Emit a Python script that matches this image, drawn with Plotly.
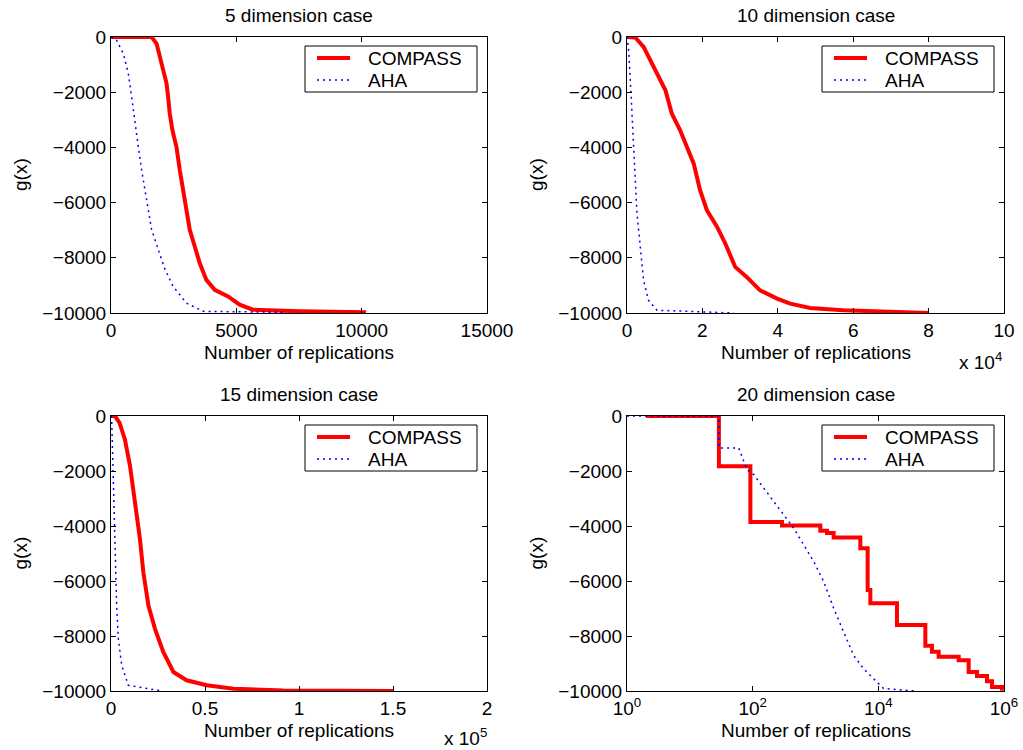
import plotly.graph_objects as go

# ---- 5 dimension case ----
compass5_x = [0, 1618, 1817, 2016, 2215, 2281, 2347, 2454, 2613, 2745, 2878, 2984,
              3143, 3342, 3541, 3806, 4138, 4668, 5133, 5663, 7520, 10172]
compass5_y = [0, 0, -240, -960, -1680, -2190, -2790, -3390, -3990, -4830, -5550, -6270,
              -6990, -7590, -8200, -8800, -9160, -9400, -9700, -9880, -9940, -9975]
aha5_x = [0, 225, 490, 690, 822, 955, 1088, 1220, 1419, 1618, 1883, 2149, 2480,
          3011, 3674, 6857]
aha5_y = [0, -120, -600, -1320, -2160, -3120, -3970, -4810, -5890, -6970, -7690,
          -8410, -9040, -9640, -9940, -9975]

# ---- 10 dimension case ----
compass10_x = [0, 2200, 4400, 6200, 8400, 10200, 11900, 14100, 15900, 17700, 19400,
               21200, 23900, 26100, 28700, 31800, 35300, 39800, 43300, 48600, 57400,
               70700, 80000]
compass10_y = [0, -20, -360, -850, -1450, -1930, -2780, -3380, -3990, -4590, -5560,
               -6280, -6880, -7490, -8330, -8700, -9180, -9480, -9660, -9820, -9900,
               -9970, -10000]
aha10_x = [0, 440, 880, 1330, 1770, 2200, 2650, 3530, 4400, 5700, 7950, 28300]
aha10_y = [0, -480, -1570, -2780, -3990, -5190, -6400, -7610, -8820, -9540, -9900,
           -10000]

# ---- 15 dimension case ----
compass15_x = [0, 2100, 4500, 7400, 10100, 11900, 13600, 15400, 17200, 19900, 23400,
               27800, 33200, 40200, 50900, 65100, 91700, 150200]
compass15_y = [0, 0, -240, -850, -1810, -2660, -3630, -4470, -5680, -6890, -7740,
               -8580, -9310, -9610, -9790, -9920, -9980, -10000]
aha15_x = [0, 350, 900, 1600, 2300, 3000, 3900, 5700, 9200, 27000]
aha15_y = [0, -120, -1450, -3260, -5080, -6890, -8100, -9070, -9790, -10000]

# ---- 20 dimension case (log x, step curve for COMPASS) ----
compass20_x = [2, 29, 92, 293, 1194, 1524, 1945, 5170, 6760, 7460, 19800, 56000,
               71400, 91200, 190000, 274000, 372000, 536000, 644000, 930000, 990000]
compass20_y = [0, -1825, -3857, -3978, -4173, -4258, -4416, -4805, -6326, -6813,
               -7603, -8358, -8577, -8759, -8881, -9307, -9453, -9647, -9854, -9915,
               -9915]
aha20_x = [1, 29, 29, 60, 81, 104, 150, 216, 311, 450, 648, 935, 1350, 1950, 2800,
           4030, 5800, 8400, 12100, 39000]
aha20_y = [0, 0, -1160, -1160, -1950, -2130, -2620, -3100, -3590, -4080, -4680,
           -5290, -6020, -7000, -7850, -8700, -9190, -9550, -9910, -10000]

titles = ["5 dimension case", "10 dimension case", "15 dimension case",
          "20 dimension case"]
series_names = ["COMPASS", "AHA"]

y_ticks = [0, -2000, -4000, -6000, -8000, -10000]
x5_ticks = [0, 5000, 10000, 15000]
x10_ticks = [0, 20000, 40000, 60000, 80000, 100000]
x10_labels = ["0", "2", "4", "6", "8", "10"]
x15_ticks = [0, 50000, 100000, 150000, 200000]
x15_labels = ["0", "0.5", "1", "1.5", "2"]
x20_ticks = [1, 100, 10000, 1000000]
x20_labels = ["10<sup>0</sup>", "10<sup>2</sup>", "10<sup>4</sup>", "10<sup>6</sup>"]

W, H = 1023, 750
FONT = "Liberation Sans, Arial, Helvetica, sans-serif"
FS = 19
RED = "#ff0000"
BLUE = "#0000ff"
RED_LINE = dict(color=RED, width=4)
BLUE_LINE = dict(color=BLUE, width=1.5, dash="2px,4px")

def px_x(p):
    return p / W

def px_y(p):
    return 1 - p / H

# plot boxes in pixels: (left, right, top, bottom)
boxes = [(111, 487, 37, 313), (627, 1004, 37, 313),
         (111, 487, 416, 691), (627, 1004, 416, 691)]

fig = go.Figure()

series = [
    (compass5_x, compass5_y, aha5_x, aha5_y, "linear"),
    (compass10_x, compass10_y, aha10_x, aha10_y, "linear"),
    (compass15_x, compass15_y, aha15_x, aha15_y, "linear"),
    (compass20_x, compass20_y, aha20_x, aha20_y, "hv"),
]

for i, (cx, cy, ax, ay, shape) in enumerate(series):
    xa = "x" if i == 0 else f"x{i+1}"
    ya = "y" if i == 0 else f"y{i+1}"
    fig.add_trace(go.Scatter(
        x=cx, y=cy, mode="lines", name=series_names[0], showlegend=False,
        line=dict(RED_LINE, shape=shape), xaxis=xa, yaxis=ya))
    fig.add_trace(go.Scatter(
        x=ax, y=ay, mode="lines", name=series_names[1], showlegend=False,
        line=BLUE_LINE, xaxis=xa, yaxis=ya))

axis_common = dict(
    showline=True, linecolor="black", linewidth=1, mirror="allticks",
    ticks="inside", ticklen=5, tickcolor="black", tickwidth=1,
    showgrid=False, zeroline=False, automargin=False,
    tickfont=dict(family=FONT, size=FS, color="black"),
)

x_specs = [
    dict(range=[0, 15000], tickvals=x5_ticks, ticktext=[str(v) for v in x5_ticks]),
    dict(range=[0, 100000], tickvals=x10_ticks, ticktext=x10_labels),
    dict(range=[0, 200000], tickvals=x15_ticks, ticktext=x15_labels),
    dict(type="log", range=[0, 6], tickvals=x20_ticks, ticktext=x20_labels),
]

layout = {}
for i, (l, r, t, b) in enumerate(boxes):
    xk = "xaxis" if i == 0 else f"xaxis{i+1}"
    yk = "yaxis" if i == 0 else f"yaxis{i+1}"
    ya = "y" if i == 0 else f"y{i+1}"
    xa = "x" if i == 0 else f"x{i+1}"
    layout[xk] = dict(domain=[px_x(l), px_x(r)], anchor=ya, **axis_common, **x_specs[i])
    layout[yk] = dict(domain=[px_y(b), px_y(t)], anchor=xa, range=[-10000, 0],
                      tickvals=y_ticks,
                      ticktext=[f"\u2212{abs(v)}" if v else "0" for v in y_ticks],
                      **axis_common)

txt = dict(family=FONT, size=FS, color="black")
annotations = []
shapes = []
for i, (l, r, t, b) in enumerate(boxes):
    cx = (l + r) / 2
    # panel title
    annotations.append(dict(text=titles[i], x=px_x(cx), y=px_y(t - 22),
                            xref="paper", yref="paper", showarrow=False,
                            xanchor="center", yanchor="middle", font=txt))
    # x-axis title
    annotations.append(dict(text="Number of replications", x=px_x(cx), y=px_y(b + 39),
                            xref="paper", yref="paper", showarrow=False,
                            xanchor="center", yanchor="middle", font=txt))
    # y-axis title
    annotations.append(dict(text="g(x)", x=px_x(l - 91), y=px_y((t + b) / 2),
                            xref="paper", yref="paper", showarrow=False,
                            textangle=-90, xanchor="center", yanchor="middle",
                            font=txt))

    # legend box in the upper right corner of each panel
    lx0, lx1 = r - 182, r - 10
    ly0, ly1 = t + 9, t + 55
    shapes.append(dict(type="rect", xref="paper", yref="paper",
                       x0=px_x(lx0), x1=px_x(lx1), y0=px_y(ly1), y1=px_y(ly0),
                       line=dict(color="black", width=1), fillcolor="white",
                       layer="above"))
    for k, (name, style) in enumerate(zip(series_names, [RED_LINE, BLUE_LINE])):
        row_y = ly0 + 12 + 22 * k
        shapes.append(dict(type="line", xref="paper", yref="paper",
                           x0=px_x(lx0 + 12), x1=px_x(lx0 + 45),
                           y0=px_y(row_y), y1=px_y(row_y),
                           line=style, layer="above"))
        annotations.append(dict(text=name, x=px_x(lx0 + 61), y=px_y(row_y),
                                xref="paper", yref="paper", showarrow=False,
                                xanchor="left", yanchor="middle", font=txt))

# scale factors under the linear x axes
annotations.append(dict(text="x 10<sup>4</sup>", x=px_x(1004), y=px_y(361),
                        xref="paper", yref="paper", showarrow=False,
                        xanchor="right", yanchor="middle", font=txt))
annotations.append(dict(text="x 10<sup>5</sup>", x=px_x(489), y=px_y(737),
                        xref="paper", yref="paper", showarrow=False,
                        xanchor="right", yanchor="middle", font=txt))

fig.update_layout(
    width=W, height=H,
    margin=dict(l=0, r=0, t=0, b=0),
    paper_bgcolor="white", plot_bgcolor="white",
    font=txt,
    showlegend=False,
    annotations=annotations,
    shapes=shapes,
    **layout,
)

fig.write_html("out.html")
